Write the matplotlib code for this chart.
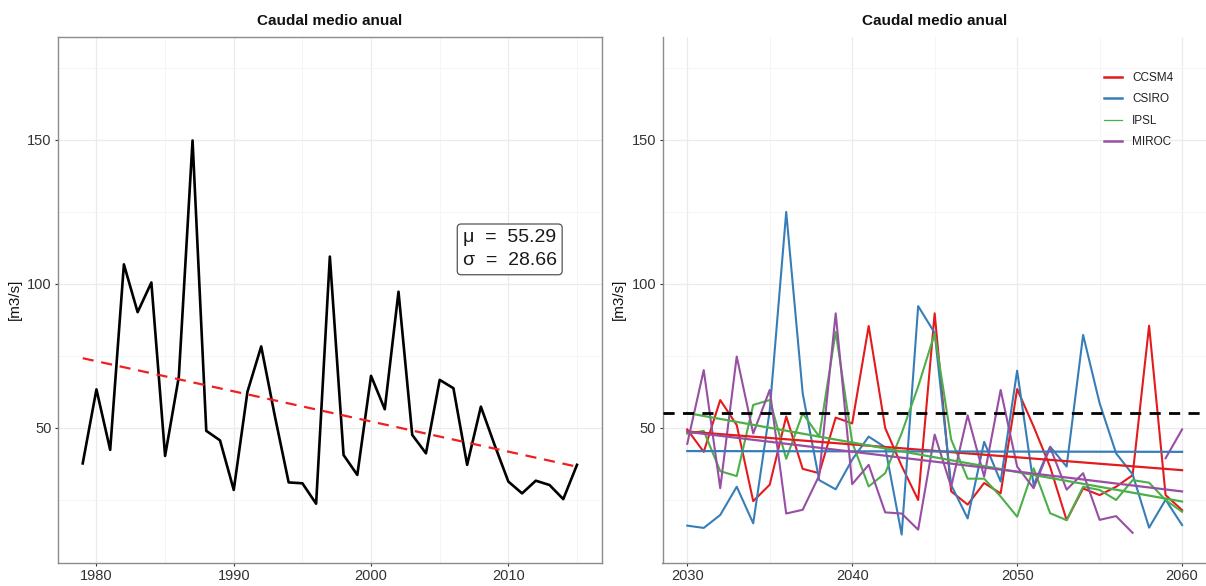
import numpy as np
import matplotlib
matplotlib.use("Agg")
import matplotlib.pyplot as plt
from matplotlib.ticker import MultipleLocator
from matplotlib.lines import Line2D

plt.rcParams['font.family'] = ['Liberation Sans', 'DejaVu Sans']

# ---------------- data ----------------
obs_years = list(range(1979, 2016))
obs_flow = [37.7, 63.4, 42.4, 106.8, 90.2, 100.5, 40.3, 67.8, 149.8, 49.0,
            45.7, 28.5, 62.6, 78.3, 54.0, 31.1, 30.8, 23.7, 109.5, 40.6,
            33.7, 68.1, 56.5, 97.3, 47.6, 41.2, 66.7, 63.8, 37.2, 57.4,
            44.1, 31.4, 27.3, 31.7, 30.2, 25.3, 37.2]
obs_mean = 55.29
obs_sd = 28.66

fut_years = list(range(2030, 2061))
ccsm4 = [49.5, 41.7, 59.7, 51.0, 24.6, 30.3, 54.0, 35.8, 34.3, 53.6,
         51.6, 85.4, 50.0, 36.8, 25.0, 89.8, 28.0, 23.4, 30.9, 27.3,
         63.5, 50.5, 36.5, 18.0, 29.0, 26.7, 29.6, 33.6, 85.5, 26.7, 21.5]
csiro = [16.1, 15.3, 19.8, 29.6, 16.9, 56.0, 125.0, 62.0, 31.9, 28.7,
         39.0, 47.0, 43.3, 13.0, 92.3, 83.0, 30.2, 18.6, 45.2, 31.4,
         69.9, 30.2, 43.5, 36.6, 82.3, 58.6, 41.2, 33.9, 15.4, 25.1, 16.3]
ipsl = [48.0, 49.0, 35.0, 33.3, 58.0, 59.7, 39.3, 55.1, 47.0, 83.4,
        45.0, 29.7, 34.3, 48.2, 64.4, 82.8, 46.0, 32.4, 32.4, 26.2,
        19.2, 36.0, 20.4, 18.0, 29.6, 28.5, 25.0, 31.9, 31.0, 25.0, 20.9]
miroc = [44.5, 70.1, 29.1, 74.8, 48.1, 63.2, 20.3, 21.6, 33.5, 89.8,
         30.5, 37.2, 20.7, 20.3, 14.7, 47.7, 29.6, 54.4, 33.1, 63.2,
         36.6, 29.1, 43.3, 28.6, 34.3, 18.1, 19.4, 13.6, np.nan, 39.5, 49.5]

model_names = ['CCSM4', 'CSIRO', 'IPSL', 'MIROC']
model_values = [ccsm4, csiro, ipsl, miroc]
model_colors = ['#E41A1C', '#377EB8', '#4DAF4A', '#984EA3']

title = 'Caudal medio anual'
ylabel = '[m3/s]'

# ---------------- figure ----------------
W, H = 1206, 586
fig = plt.figure(figsize=(W / 100, H / 100), dpi=100)

def frac_box(x0, x1, y0, y1):
    return [x0 / W, 1 - y1 / H, (x1 - x0) / W, (y1 - y0) / H]

axL = fig.add_axes(frac_box(58, 601.7, 36.5, 562.5))
axR = fig.add_axes(frac_box(662.5, 1206, 36.5, 562.5))

tick_color = '#333333'
for ax in (axL, axR):
    ax.set_ylim(3.3, 185.9)
    ax.yaxis.set_major_locator(MultipleLocator(50))
    ax.yaxis.set_minor_locator(MultipleLocator(25))
    ax.xaxis.set_major_locator(MultipleLocator(10))
    ax.xaxis.set_minor_locator(MultipleLocator(5))
    ax.grid(which='major', color='#EBEBEB', lw=0.9, zorder=0)
    ax.grid(which='minor', color='#F4F4F4', lw=0.6, zorder=0)
    ax.set_axisbelow(True)
    ax.tick_params(which='major', length=2.5, width=0.8, color=tick_color,
                   labelsize=10.5, labelcolor=tick_color, pad=2)
    ax.tick_params(which='minor', length=0)
    ax.set_title(title, fontsize=11, fontweight='bold', pad=8, color='#111111')
    ax.set_ylabel(ylabel, fontsize=11, color='#111111', labelpad=4)

# ---- left panel ----
axL.set_xlim(1977.2, 2016.8)
for s in axL.spines.values():
    s.set_color('#8c8c8c')
    s.set_linewidth(1.0)
axL.plot(obs_years, obs_flow, color='black', lw=1.9, zorder=3)
ox = np.array(obs_years, dtype=float)
oy = np.array(obs_flow, dtype=float)
b, a = np.polyfit(ox, oy, 1)
axL.plot(ox, a + b * ox, color='#F01E1E', lw=1.6, ls=(0, (5, 3.5)), zorder=4)
axL.text(2010.1, 112, f'\u03bc  =  {obs_mean:.2f}\n\u03c3  =  {obs_sd:.2f}',
         fontsize=14, ha='center', va='center', linespacing=1.45,
         color='#1a1a1a',
         bbox=dict(boxstyle='round,pad=0.28,rounding_size=0.2', fc='white',
                   ec='#555555', lw=0.9), zorder=6)

# ---- right panel ----
axR.set_xlim(2028.5, 2061.45)
axR.spines['top'].set_visible(False)
axR.spines['right'].set_visible(False)
for k in ('left', 'bottom'):
    axR.spines[k].set_color('#8c8c8c')
    axR.spines[k].set_linewidth(1.0)

fx = np.array(fut_years, dtype=float)
for name, vals, col in zip(model_names, model_values, model_colors):
    v = np.array(vals, dtype=float)
    axR.plot(fx, v, color=col, lw=1.5, zorder=3, label=name)
for name, vals, col in zip(model_names, model_values, model_colors):
    v = np.array(vals, dtype=float)
    m = ~np.isnan(v)
    bb, aa = np.polyfit(fx[m], v[m], 1)
    axR.plot(fx, aa + bb * fx, color=col, lw=1.6, zorder=4)
axR.axhline(obs_mean, color='black', lw=2.0, ls=(0, (4, 3)), zorder=5)

leg_handles = [Line2D([], [], color=c, lw=(0.9 if n == 'IPSL' else 1.8))
               for n, c in zip(model_names, model_colors)]
leg = axR.legend(leg_handles, model_names, loc='upper left',
                 bbox_to_anchor=(1104 / W, 1 - 72 / H),
                 bbox_transform=fig.transFigure, frameon=False,
                 fontsize=8.5, handlelength=1.55, handletextpad=0.85,
                 labelspacing=0.8, borderpad=0, borderaxespad=0)
for t in leg.get_texts():
    t.set_color('#222222')

fig.savefig('out.png', dpi=100)
